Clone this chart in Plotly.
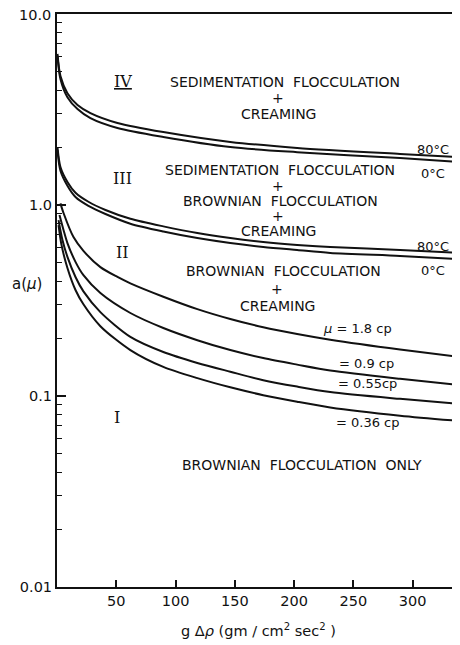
import plotly.graph_objects as go

# ---- data ----
x_iv = [0.4, 2.9, 8.8, 17.3, 28.2, 51, 89.7, 146.2, 202.6, 289.4, 340]
iv_80c = [6.18, 4.73, 3.85, 3.34, 3.03, 2.69, 2.41, 2.14, 1.99, 1.85, 1.78]
iv_0c = [6.03, 4.57, 3.67, 3.18, 2.85, 2.53, 2.27, 2.01, 1.89, 1.76, 1.68]

x_iii = [0.4, 2.9, 8.8, 15.6, 26.5, 40.9, 61.9, 89.7, 118.4, 146.2, 174, 202.6, 230.5, 289.4, 340]
iii_80c = [2.01, 1.58, 1.32, 1.16, 1.04, 0.942, 0.847, 0.773, 0.713, 0.671, 0.640, 0.618, 0.603, 0.581, 0.561]
iii_0c = [1.94, 1.51, 1.26, 1.10, 0.989, 0.897, 0.798, 0.726, 0.671, 0.632, 0.603, 0.581, 0.561, 0.541, 0.521]

x_mu18 = [2.9, 5.5, 13.9, 22.3, 36.6, 51, 61.9, 89.7, 118.4, 146.2, 174, 202.6, 230.5, 289.4, 340]
mu_18 = [1.02, 0.908, 0.679, 0.575, 0.473, 0.420, 0.389, 0.331, 0.285, 0.253, 0.229, 0.211, 0.197, 0.175, 0.160]

x_mu09 = [2.1, 5.5, 8.8, 15.6, 22.3, 36.6, 61.9, 89.7, 118.4, 146.2, 174, 202.6, 230.5, 289.4, 340]
mu_09 = [0.887, 0.740, 0.632, 0.504, 0.429, 0.346, 0.272, 0.227, 0.196, 0.174, 0.158, 0.146, 0.136, 0.123, 0.114]

x_mu055 = [1.3, 4.6, 8.8, 15.6, 22.3, 36.6, 61.9, 89.7, 118.4, 146.2, 174, 202.6, 230.5, 289.4, 340]
mu_055 = [0.834, 0.656, 0.535, 0.420, 0.353, 0.275, 0.204, 0.170, 0.149, 0.134, 0.121, 0.112, 0.105, 0.0966, 0.0908]

x_mu036 = [1.3, 3.8, 8.8, 15.6, 22.3, 36.6, 61.9, 89.7, 118.4, 146.2, 174, 202.6, 230.5, 289.4, 340]
mu_036 = [0.785, 0.618, 0.468, 0.359, 0.302, 0.232, 0.174, 0.142, 0.124, 0.111, 0.101, 0.0933, 0.0871, 0.0789, 0.0740]

x_tickvals = [50, 100, 150, 200, 250, 300]
y_tickvals = [0.01, 0.1, 1.0, 10.0]
y_ticktext = ["0.01", "0.1", "1.0", ""]   # "10.0" is drawn as an annotation (top edge)
y_minor = [m * d for d in (0.01, 0.1, 1.0) for m in range(2, 10)]

series = [
    (x_iv, iv_80c), (x_iv, iv_0c),
    (x_iii, iii_80c), (x_iii, iii_0c),
    (x_mu18, mu_18), (x_mu09, mu_09),
    (x_mu055, mu_055), (x_mu036, mu_036),
]

# page body adds an 8px offset, so the figure is 8px smaller than the window
OFF = 8
W, H = 460 - OFF, 645 - OFF
L, R, T, B = 57 - OFF, 0, 14 - OFF, 58
PW, PH = W - L - R, H - T - B

fig = go.Figure()
for xs, ys in series:
    fig.add_trace(go.Scatter(x=xs, y=ys, mode="lines",
                             line=dict(color="#111", width=2, shape="spline", smoothing=0.8),
                             showlegend=False, hoverinfo="skip"))

FONT = "DejaVu Sans"
SERIF = "DejaVu Serif"


def px(x, y):
    # reference-picture pixel -> paper fraction
    return (x - OFF - L) / PW, (H - B - (y - OFF)) / PH


anns = []


def txt(x, y, s, size=14, family=FONT, xanchor="center"):
    xp, yp = px(x, y)
    anns.append(dict(x=xp, y=yp, xref="paper", yref="paper", text=s, showarrow=False,
                     font=dict(family=family, size=size, color="#111"),
                     xanchor=xanchor, yanchor="middle"))


S = "\u00a0"
txt(123, 82, "<u>IV</u>", 16, SERIF)
txt(285, 82, "SEDIMENTATION" + S + S + "FLOCCULATION")
txt(278, 98, "+")
txt(278, 114, "CREAMING")
txt(122, 178, "III", 16, SERIF)
txt(280, 170, "SEDIMENTATION" + S + S + "FLOCCULATION")
txt(278, 186, "+")
txt(280, 201, "BROWNIAN" + S + S + "FLOCCULATION")
txt(278, 216, "+")
txt(278, 231, "CREAMING")
txt(122, 252, "II", 16, SERIF)
txt(283, 271, "BROWNIAN" + S + S + "FLOCCULATION")
txt(277, 289, "+")
txt(277, 306, "CREAMING")
txt(117, 418, "I", 16, SERIF)
txt(302, 465, "BROWNIAN" + S + S + "FLOCCULATION" + S + S + "ONLY")
txt(433, 150, "80°C", 13)
txt(433, 173, "0°C", 13)
txt(433, 246, "80°C", 13)
txt(433, 270, "0°C", 13)
txt(357, 328, "<i>μ</i> = 1.8 cp", 13)
txt(366, 363, "= 0.9 cp", 13)
txt(367, 383, "= 0.55cp", 13)
txt(368, 422, "= 0.36 cp", 13)
txt(27, 284, "a(<i>μ</i>)", 15)
txt(53, 15, "10.0", 14.5, xanchor="right")
txt(258, 630, "g Δ<i>ρ</i> (gm / cm<sup>2</sup> sec<sup>2</sup> )", 14.5)

fig.update_layout(
    width=W, height=H,
    margin=dict(l=L, r=R, t=T, b=B, pad=0),
    paper_bgcolor="white", plot_bgcolor="white",
    annotations=anns,
    xaxis=dict(range=[0, 340], tickvals=x_tickvals, ticks="inside", ticklen=7,
               tickwidth=1.5, tickcolor="#111", showline=True, linecolor="#111",
               linewidth=2, mirror=True, showgrid=False, zeroline=False,
               tickfont=dict(family=FONT, size=14.5, color="#111")),
    yaxis=dict(type="log", range=[-2, 1], tickvals=y_tickvals, ticktext=y_ticktext,
               ticks="inside", ticklen=9, tickwidth=1.5, tickcolor="#111",
               showline=True, linecolor="#111", linewidth=2, showgrid=False,
               zeroline=False, tickfont=dict(family=FONT, size=14.5, color="#111"),
               minor=dict(tickvals=y_minor, ticks="inside", ticklen=5,
                          tickwidth=1.2, tickcolor="#111", showgrid=False)),
)

fig.write_html("out.html")
